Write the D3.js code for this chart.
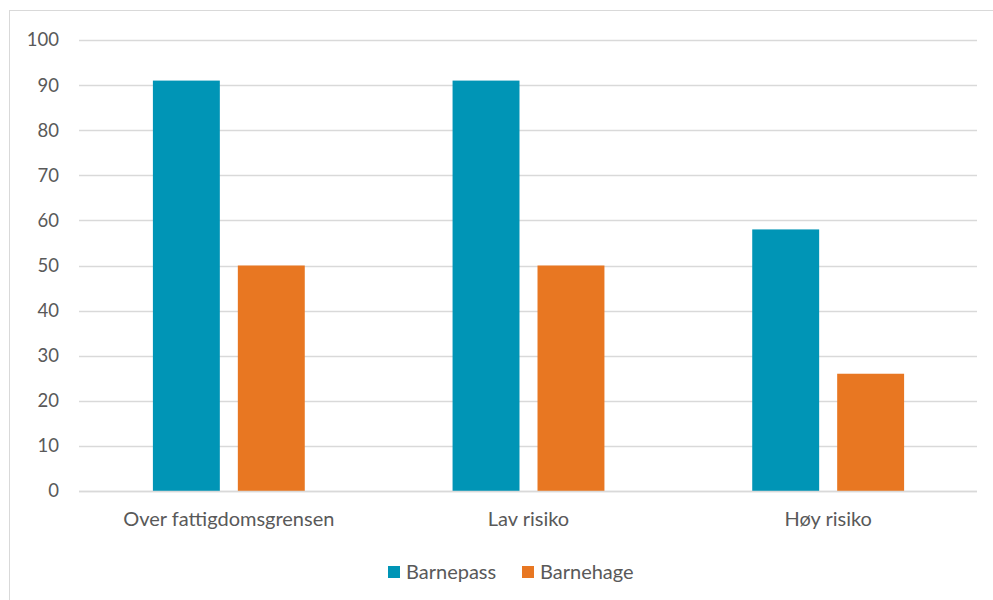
<!DOCTYPE html>
<html><head><meta charset="utf-8">
<script src="https://cdn.jsdelivr.net/npm/d3@7"></script>
<style>body{margin:0;background:#fff}svg{display:block;font-family:Lato,"Open Sans",sans-serif}</style>
</head><body>
<svg id="c" width="993" height="600"></svg>
<script>
const categories = ["Over fattigdomsgrensen", "Lav risiko", "Høy risiko"];
const seriesNames = ["Barnepass", "Barnehage"];
const barnepass = [91, 91, 58];
const barnehage = [50, 50, 26];
const yTicks = [0,10,20,30,40,50,60,70,80,90,100];
const colors = ["#0095B6", "#E87722"];

(function(){
const svg = d3.select("#c");
svg.append("rect").attr("x",9.5).attr("y",10.5).attr("width",1000).attr("height",600)
  .attr("fill","none").attr("stroke","#d9d9d9").attr("stroke-width",1);

const mL = 79, mR = 978, mT = 40, mB = 491;
const y = d3.scaleLinear().domain([0,100]).range([mB, mT]);
const x0 = d3.scaleBand().domain(categories).range([mL, mR]).paddingInner(0).paddingOuter(0);
const x1 = d3.scaleBand().domain(seriesNames).range([0, x0.bandwidth()]).paddingInner(0.212).paddingOuter(0.87);

const grid = svg.append("g");
yTicks.forEach(t => {
  grid.append("line").attr("x1",mL).attr("x2",mR-1).attr("y1",Math.round(y(t))+0.5).attr("y2",Math.round(y(t))+0.5)
    .attr("stroke", "#d9d9d9").attr("stroke-width",1.5);
});
const yAxis = d3.axisLeft(y).tickValues(yTicks).tickSize(0).tickPadding(0);
const ya = svg.append("g").attr("transform",`translate(59,0)`).call(yAxis);
ya.select(".domain").remove();
ya.selectAll("text").attr("font-size",18.5).attr("fill","#595959").attr("font-family",'Lato,sans-serif');

const data = categories.map((c,i)=>({cat:c, vals:[barnepass[i], barnehage[i]]}));
const g = svg.append("g");
data.forEach(d => {
  d.vals.forEach((v,j) => {
    g.append("rect").attr("x", x0(d.cat)+x1(seriesNames[j])).attr("width", x1.bandwidth())
      .attr("y", y(v)).attr("height", y(0)-y(v)).attr("fill", colors[j]);
  });
});
svg.append("line").attr("x1",mL).attr("x2",mR-1).attr("y1",Math.round(y(0))+0.5).attr("y2",Math.round(y(0))+0.5)
  .attr("stroke","#d9d9d9").attr("stroke-width",1.5);

const xAxis = d3.axisBottom(x0).tickSize(0).tickPadding(0);
const xa = svg.append("g").attr("transform",`translate(0,${mB+21})`).call(xAxis);
xa.select(".domain").remove();
xa.selectAll("text").attr("font-size",20).attr("fill","#595959").attr("font-family",'Lato,sans-serif');

const legX = [388, 522];
seriesNames.forEach((s,j)=>{
  svg.append("rect").attr("x",legX[j]).attr("y",566).attr("width",12).attr("height",12).attr("fill",colors[j]);
  svg.append("text").attr("x",legX[j]+18).attr("y",579).attr("font-size",20).attr("fill","#595959").text(s);
});
})();
</script>
</body></html>
